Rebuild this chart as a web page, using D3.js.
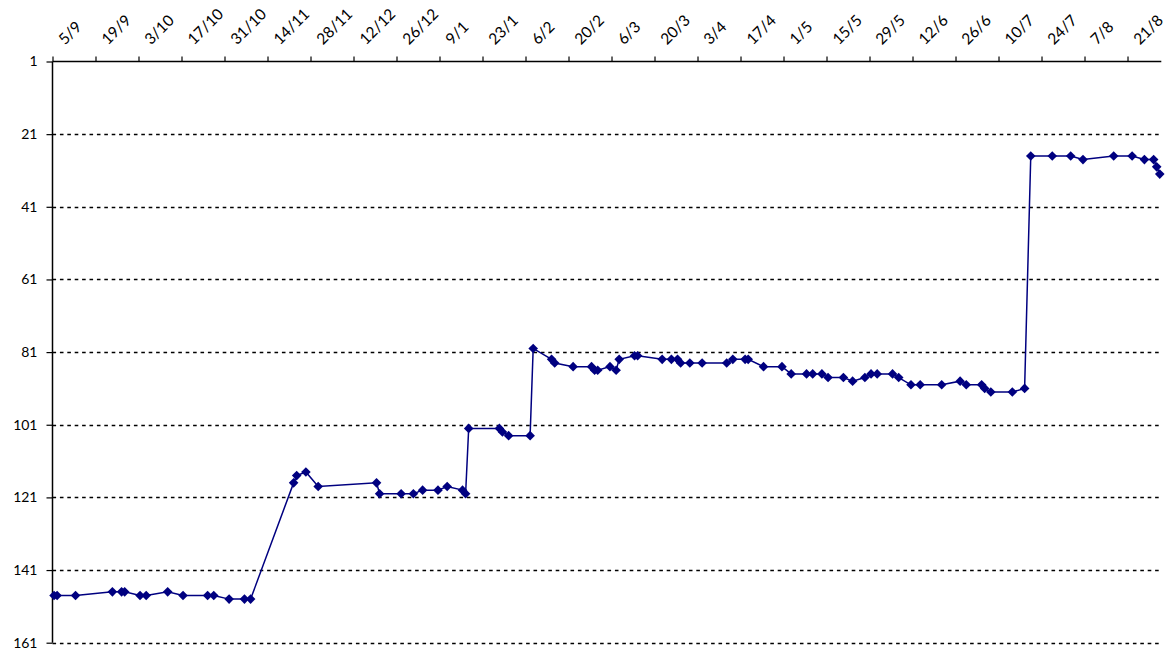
<!DOCTYPE html>
<html>
<head>
<meta charset="utf-8">
<script src="https://cdn.jsdelivr.net/npm/d3@7"></script>
<style>
  html, body { margin: 0; padding: 0; background: #fff; }
  svg { display: block; }
  text { font-family: Lato, "Open Sans", sans-serif; fill: #000; }
</style>
</head>
<body>
<svg id="chart" width="1172" height="653"></svg>
<script>
// ---- data ----
const dates = [
  "2010-09-05","2010-09-06","2010-09-12","2010-09-24","2010-09-27","2010-09-28",
  "2010-10-03","2010-10-05","2010-10-12","2010-10-17","2010-10-25","2010-10-27",
  "2010-11-01","2010-11-06","2010-11-08","2010-11-22","2010-11-23","2010-11-26",
  "2010-11-30","2010-12-19","2010-12-20","2010-12-27","2010-12-31","2011-01-03",
  "2011-01-08","2011-01-11","2011-01-16","2011-01-17","2011-01-18","2011-01-28",
  "2011-01-29","2011-01-31","2011-02-07","2011-02-08","2011-02-14","2011-02-15",
  "2011-02-21","2011-02-27","2011-02-28","2011-03-01","2011-03-05","2011-03-07",
  "2011-03-08","2011-03-13","2011-03-14","2011-03-22","2011-03-25","2011-03-27",
  "2011-03-28","2011-03-31","2011-04-04","2011-04-12","2011-04-14","2011-04-18",
  "2011-04-19","2011-04-24","2011-04-30","2011-05-03","2011-05-08","2011-05-10",
  "2011-05-13","2011-05-15","2011-05-20","2011-05-23","2011-05-27","2011-05-29",
  "2011-05-31","2011-06-05","2011-06-07","2011-06-11","2011-06-14","2011-06-21",
  "2011-06-27","2011-06-29","2011-07-04","2011-07-05","2011-07-07","2011-07-14",
  "2011-07-18","2011-07-20","2011-07-27","2011-08-02","2011-08-06","2011-08-16",
  "2011-08-22","2011-08-26","2011-08-29","2011-08-30","2011-08-31"
];
const ranks = [
  148,148,148,147,147,147,
  148,148,147,148,148,148,
  149,149,149,117,115,114,
  118,117,120,120,120,119,
  119,118,119,120,102,102,
  103,104,104,80,83,84,
  85,85,86,86,85,86,
  83,82,82,83,83,83,
  84,84,84,84,83,83,
  83,85,85,87,87,87,
  87,88,88,89,88,87,
  87,87,88,90,90,90,
  89,90,90,91,92,92,
  91,27,27,27,28,27,
  27,28,28,30,32
];
const tickLabels = ["5/9","19/9","3/10","17/10","31/10","14/11","28/11","12/12","26/12","9/1",
  "23/1","6/2","20/2","6/3","20/3","3/4","17/4","1/5","15/5","29/5","12/6","26/6",
  "10/7","24/7","7/8","21/8"];
const yTicks = [1, 21, 41, 61, 81, 101, 121, 141, 161];
const axisStart = "2010-09-05";
const axisEnd = "2011-09-01";

(function () {
  // ---- layout ----
  const mLeft = 52.5, mRight = 1161.3, mTop = 61.5, mBottom = 642.7;
  const svg = d3.select("#chart");
  const parse = d3.utcParse("%Y-%m-%d");

  const x = d3.scaleUtc().domain([parse(axisStart), parse(axisEnd)]).range([mLeft, mRight]);
  const y = d3.scaleLinear().domain([1, 161]).range([mTop, mBottom]);

  const tickDates = tickLabels.map((_, i) => d3.utcDay.offset(parse(axisStart), 14 * i));

  // gridlines
  svg.append("g").selectAll("line").data(yTicks.slice(1)).join("line")
    .attr("x1", mLeft).attr("x2", mRight)
    .attr("y1", d => Math.round(y(d)) + 0.5).attr("y2", d => Math.round(y(d)) + 0.5)
    .attr("stroke", "#000").attr("stroke-width", 1.3).attr("stroke-dasharray", "3.6,3.8");

  // y axis
  const yAxis = d3.axisLeft(y).tickValues(yTicks).tickSize(6).tickPadding(9).tickFormat(d3.format("d"));
  const gy = svg.append("g").attr("transform", `translate(${mLeft},0)`).call(yAxis);
  gy.select(".domain").remove();
  gy.selectAll(".tick line").attr("stroke", "#000").attr("stroke-width", 1.2);
  gy.selectAll(".tick text").style("font-family", "Lato, 'Open Sans', sans-serif").style("font-size", "14px").attr("fill", "#000");
  svg.append("line").attr("x1", mLeft).attr("x2", mLeft).attr("y1", mTop).attr("y2", mBottom)
    .attr("stroke", "#000").attr("stroke-width", 1.5);

  // x axis (top)
  const xAxis = d3.axisTop(x).tickValues(tickDates).tickSize(5).tickFormat("");
  const gx = svg.append("g").attr("transform", `translate(0,${mTop})`).call(xAxis);
  gx.select(".domain").remove();
  gx.selectAll(".tick line").attr("stroke", "#000").attr("stroke-width", 1.2);
  svg.append("line").attr("x1", mLeft).attr("x2", mRight).attr("y1", mTop).attr("y2", mTop)
    .attr("stroke", "#000").attr("stroke-width", 1.5);

  svg.append("g").selectAll("text").data(tickDates).join("text")
    .attr("transform", d => `translate(${x(d) + 12.5},${mTop - 16}) rotate(-45)`)
    .attr("text-anchor", "start")
    .style("font-size", "15.5px")
    .text((d, i) => tickLabels[i]);

  // data
  const pts = dates.map((d, i) => ({ x: x(d3.utcHour.offset(parse(d), 12)), y: y(ranks[i]) }));
  const line = d3.line().x(d => d.x).y(d => d.y);
  svg.append("path").datum(pts).attr("d", line)
    .attr("fill", "none").attr("stroke", "#000080").attr("stroke-width", 1.5);

  const r = 4.8;
  svg.append("g").selectAll("path").data(pts).join("path")
    .attr("d", `M0,${-r}L${r},0L0,${r}L${-r},0Z`)
    .attr("transform", d => `translate(${d.x},${d.y})`)
    .attr("fill", "#000080");
})();
</script>
</body>
</html>
